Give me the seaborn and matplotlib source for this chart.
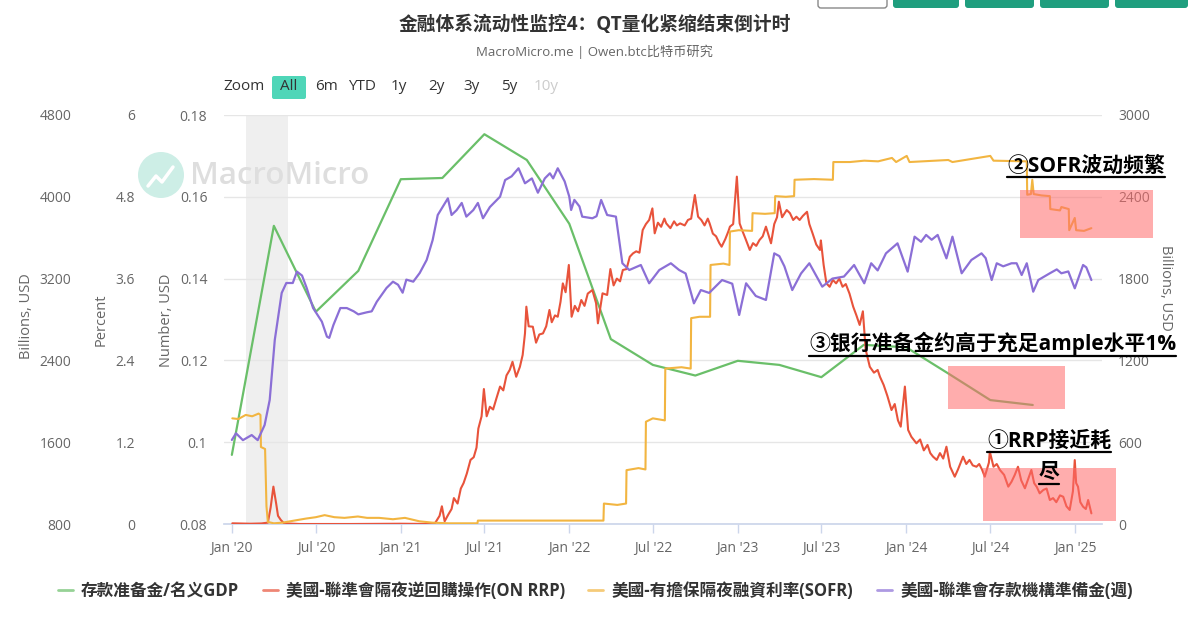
import matplotlib
matplotlib.use("Agg")
import matplotlib.pyplot as plt
import matplotlib.dates as mdates
from matplotlib.patches import Rectangle, FancyBboxPatch, Circle
from matplotlib.lines import Line2D
from matplotlib.transforms import Affine2D
import pandas as pd
import seaborn as sns


title = "金融体系流动性监控4：QT量化紧缩结束倒计时"
subtitle = "MacroMicro.me | Owen.btc比特币研究"
legend_labels = ["存款准备金/名义GDP", "美國-聯準會隔夜逆回購操作(ON RRP)",
                 "美國-有擔保隔夜融資利率(SOFR)", "美國-聯準會存款機構準備金(週)"]

# 存款准备金/名义GDP, quarterly (Number, USD)
reserves_gdp = [
    ("2020-01-01", 0.0969), ("2020-04-01", 0.1529), ("2020-07-01", 0.1319),
    ("2020-10-01", 0.1419), ("2021-01-01", 0.1643), ("2021-04-01", 0.1646),
    ("2021-07-01", 0.1753), ("2021-10-01", 0.1690), ("2022-01-01", 0.1534),
    ("2022-04-01", 0.1252), ("2022-07-01", 0.1189), ("2022-10-01", 0.1163),
    ("2023-01-01", 0.1199), ("2023-04-01", 0.1189), ("2023-07-01", 0.1159),
    ("2023-10-01", 0.1238), ("2024-01-01", 0.1232), ("2024-04-01", 0.1168),
    ("2024-07-01", 0.1103), ("2024-10-01", 0.1091),
]

# ON RRP, billions USD (right axis)
on_rrp = [
    ("2020-01-02", 5), ("2020-02-10", 2), ("2020-03-05", 4), ("2020-03-19", 10),
    ("2020-03-25", 120), ("2020-03-31", 274), ("2020-04-06", 150), ("2020-04-10", 60),
    ("2020-04-16", 30), ("2020-04-23", 5), ("2020-05-27", 0), ("2020-09-14", 0),
    ("2020-12-31", 2), ("2021-03-15", 0), ("2021-03-26", 60), ("2021-03-31", 130),
    ("2021-04-06", 20), ("2021-04-14", 70), ("2021-04-21", 110), ("2021-04-26", 190),
    ("2021-05-04", 150), ("2021-05-11", 260), ("2021-05-17", 300), ("2021-05-24", 370),
    ("2021-06-01", 470), ("2021-06-08", 490), ("2021-06-14", 560), ("2021-06-18", 700),
    ("2021-06-25", 790), ("2021-06-30", 990), ("2021-07-06", 790), ("2021-07-13", 860),
    ("2021-07-20", 840), ("2021-07-27", 920), ("2021-08-04", 1008), ("2021-08-11", 980),
    ("2021-08-18", 1090), ("2021-08-25", 1130), ("2021-08-31", 1190), ("2021-09-08", 1080),
    ("2021-09-16", 1153), ("2021-09-22", 1240), ("2021-09-27", 1398), ("2021-09-30", 1594),
    ("2021-10-05", 1450), ("2021-10-14", 1447), ("2021-10-21", 1330), ("2021-10-28", 1390),
    ("2021-11-05", 1398), ("2021-11-12", 1450), ("2021-11-19", 1570), ("2021-11-24", 1480),
    ("2021-12-01", 1530), ("2021-12-07", 1520), ("2021-12-13", 1630), ("2021-12-18", 1765),
    ("2021-12-24", 1700), ("2021-12-31", 1900), ("2022-01-06", 1520), ("2022-01-13", 1600),
    ("2022-01-20", 1560), ("2022-01-27", 1643), ("2022-02-03", 1600), ("2022-02-10", 1690),
    ("2022-02-20", 1716), ("2022-02-28", 1620), ("2022-03-04", 1472), ("2022-03-14", 1692),
    ("2022-03-24", 1680), ("2022-03-31", 1870), ("2022-04-07", 1750), ("2022-04-14", 1800),
    ("2022-04-21", 1780), ("2022-04-27", 1863), ("2022-05-05", 1870), ("2022-05-12", 1960),
    ("2022-05-19", 1985), ("2022-05-26", 2000), ("2022-06-02", 1990), ("2022-06-09", 2156),
    ("2022-06-16", 2200), ("2022-06-23", 2230), ("2022-06-30", 2315), ("2022-07-05", 2132),
    ("2022-07-12", 2210), ("2022-07-19", 2180), ("2022-07-26", 2240), ("2022-07-30", 2205),
    ("2022-08-08", 2170), ("2022-08-16", 2220), ("2022-08-22", 2190), ("2022-08-29", 2205),
    ("2022-09-08", 2190), ("2022-09-15", 2230), ("2022-09-22", 2240), ("2022-09-30", 2413),
    ("2022-10-07", 2254), ("2022-10-14", 2230), ("2022-10-21", 2190), ("2022-10-28", 2240),
    ("2022-11-01", 2205), ("2022-11-08", 2130), ("2022-11-15", 2110), ("2022-11-22", 2060),
    ("2022-11-27", 2034), ("2022-12-05", 2090), ("2022-12-12", 2150), ("2022-12-15", 2181),
    ("2022-12-22", 2200), ("2022-12-30", 2548), ("2023-01-05", 2205), ("2023-01-11", 2150),
    ("2023-01-18", 2090), ("2023-01-27", 2010), ("2023-02-03", 2060), ("2023-02-10", 2040),
    ("2023-02-17", 2083), ("2023-02-24", 2110), ("2023-03-03", 2181), ("2023-03-14", 2059),
    ("2023-03-21", 2200), ("2023-03-27", 2250), ("2023-03-31", 2364), ("2023-04-07", 2250),
    ("2023-04-17", 2303), ("2023-04-24", 2280), ("2023-05-01", 2230), ("2023-05-08", 2254),
    ("2023-05-15", 2230), ("2023-05-22", 2260), ("2023-05-31", 2290), ("2023-06-05", 2200),
    ("2023-06-12", 2132), ("2023-06-20", 2050), ("2023-06-28", 2010), ("2023-06-30", 2080),
    ("2023-07-06", 1900), ("2023-07-12", 1765), ("2023-07-19", 1740), ("2023-07-26", 1790),
    ("2023-08-02", 1765), ("2023-08-09", 1800), ("2023-08-16", 1740), ("2023-08-23", 1760),
    ("2023-08-31", 1690), ("2023-09-08", 1594), ("2023-09-15", 1530), ("2023-09-22", 1460),
    ("2023-09-29", 1560), ("2023-10-05", 1280), ("2023-10-14", 1153), ("2023-10-23", 1110),
    ("2023-10-31", 1130), ("2023-11-05", 1080), ("2023-11-13", 1020), ("2023-11-21", 940),
    ("2023-11-30", 836), ("2023-12-07", 880), ("2023-12-14", 760), ("2023-12-20", 714),
    ("2023-12-29", 1008), ("2024-01-05", 690), ("2024-01-12", 640), ("2024-01-23", 592),
    ("2024-01-31", 620), ("2024-02-08", 540), ("2024-02-16", 580), ("2024-02-22", 520),
    ("2024-02-28", 494), ("2024-03-07", 470), ("2024-03-14", 520), ("2024-03-21", 480),
    ("2024-03-28", 567), ("2024-04-05", 420), ("2024-04-15", 347), ("2024-04-22", 400),
    ("2024-04-30", 470), ("2024-05-03", 494), ("2024-05-10", 440), ("2024-05-17", 470),
    ("2024-05-24", 430), ("2024-06-01", 420), ("2024-06-07", 440), ("2024-06-13", 400),
    ("2024-06-19", 347), ("2024-06-28", 450), ("2024-06-30", 530), ("2024-07-08", 420),
    ("2024-07-15", 440), ("2024-07-22", 396), ("2024-07-31", 360), ("2024-08-09", 274),
    ("2024-08-16", 310), ("2024-08-23", 360), ("2024-08-30", 420), ("2024-09-06", 320),
    ("2024-09-14", 262), ("2024-09-21", 330), ("2024-09-28", 396), ("2024-10-04", 300),
    ("2024-10-10", 270), ("2024-10-16", 225), ("2024-10-24", 250), ("2024-10-31", 260),
    ("2024-11-07", 176), ("2024-11-14", 190), ("2024-11-21", 160), ("2024-11-29", 210),
    ("2024-12-06", 200), ("2024-12-13", 130), ("2024-12-20", 103), ("2024-12-27", 240),
    ("2024-12-31", 469), ("2025-01-03", 300), ("2025-01-07", 274), ("2025-01-12", 160),
    ("2025-01-18", 127), ("2025-01-24", 110), ("2025-01-29", 176), ("2025-02-05", 78),
]

# SOFR, percent
sofr = [
    ("2020-01-02", 1.55), ("2020-01-15", 1.54), ("2020-01-31", 1.60), ("2020-02-14", 1.58),
    ("2020-02-28", 1.62), ("2020-03-03", 1.60), ("2020-03-04", 1.13), ("2020-03-13", 1.10),
    ("2020-03-16", 0.26), ("2020-03-19", 0.03), ("2020-04-01", 0.01), ("2020-04-20", 0.02),
    ("2020-05-15", 0.05), ("2020-06-10", 0.08), ("2020-07-01", 0.10), ("2020-07-20", 0.13),
    ("2020-08-10", 0.10), ("2020-09-01", 0.09), ("2020-09-30", 0.11), ("2020-10-20", 0.09),
    ("2020-11-15", 0.09), ("2020-12-15", 0.07), ("2021-01-10", 0.09), ("2021-02-10", 0.04),
    ("2021-03-10", 0.02), ("2021-04-15", 0.01), ("2021-06-16", 0.01), ("2021-06-17", 0.05),
    ("2021-10-01", 0.05), ("2022-03-16", 0.05), ("2022-03-17", 0.30), ("2022-04-15", 0.28),
    ("2022-05-04", 0.30), ("2022-05-05", 0.79), ("2022-05-31", 0.82), ("2022-06-15", 0.80),
    ("2022-06-16", 1.50), ("2022-07-01", 1.55), ("2022-07-27", 1.52), ("2022-07-28", 2.28),
    ("2022-09-01", 2.30), ("2022-09-21", 2.28), ("2022-09-22", 3.02), ("2022-10-10", 3.04),
    ("2022-11-02", 3.04), ("2022-11-03", 3.80), ("2022-12-01", 3.82), ("2022-12-14", 3.80),
    ("2022-12-15", 4.29), ("2023-01-03", 4.31), ("2023-02-01", 4.30), ("2023-02-02", 4.56),
    ("2023-03-01", 4.55), ("2023-03-22", 4.56), ("2023-03-23", 4.81), ("2023-04-15", 4.80),
    ("2023-05-03", 4.81), ("2023-05-04", 5.05), ("2023-06-15", 5.06), ("2023-07-26", 5.05),
    ("2023-07-27", 5.31), ("2023-09-01", 5.31), ("2023-10-02", 5.33), ("2023-11-01", 5.32),
    ("2023-12-01", 5.37), ("2023-12-10", 5.31), ("2024-01-02", 5.40), ("2024-01-08", 5.31),
    ("2024-04-01", 5.34), ("2024-04-10", 5.31), ("2024-07-01", 5.40), ("2024-07-08", 5.33),
    ("2024-09-18", 5.32), ("2024-09-19", 4.83), ("2024-09-27", 4.84), ("2024-09-30", 5.05),
    ("2024-10-03", 4.84), ("2024-10-20", 4.82), ("2024-11-07", 4.81), ("2024-11-08", 4.62),
    ("2024-11-29", 4.60), ("2024-12-02", 4.65), ("2024-12-18", 4.62), ("2024-12-19", 4.31),
    ("2024-12-31", 4.49), ("2025-01-03", 4.31), ("2025-01-20", 4.30), ("2025-02-05", 4.34),
]

# Fed reserves of depository institutions, weekly, billions USD (left axis)
reserves = [
    ("2020-01-01", 1622), ("2020-01-10", 1687), ("2020-01-25", 1620), ("2020-02-13", 1670),
    ("2020-02-26", 1620), ("2020-03-12", 1768), ("2020-03-23", 2013), ("2020-04-03", 2600),
    ("2020-04-18", 3060), ("2020-04-28", 3157), ("2020-05-12", 3157), ("2020-05-21", 3268),
    ("2020-06-01", 3230), ("2020-06-11", 3110), ("2020-06-25", 2912), ("2020-07-14", 2779),
    ("2020-07-25", 2632), ("2020-07-30", 2620), ("2020-08-08", 2746), ("2020-08-23", 2912),
    ("2020-09-06", 2912), ("2020-09-21", 2880), ("2020-10-01", 2850), ("2020-10-19", 2870),
    ("2020-10-30", 2880), ("2020-11-10", 2974), ("2020-12-01", 3108), ("2020-12-15", 3170),
    ("2020-12-26", 3140), ("2021-01-05", 3062), ("2021-01-13", 3190), ("2021-01-28", 3170),
    ("2021-02-11", 3255), ("2021-02-26", 3382), ("2021-03-11", 3577), ("2021-03-22", 3822),
    ("2021-04-13", 3985), ("2021-04-21", 3822), ("2021-05-02", 3870), ("2021-05-13", 3940),
    ("2021-05-23", 3806), ("2021-06-07", 3870), ("2021-06-17", 3940), ("2021-06-28", 3790),
    ("2021-07-13", 3900), ("2021-08-04", 4001), ("2021-08-15", 4164), ("2021-08-29", 4200),
    ("2021-09-13", 4279), ("2021-09-27", 4132), ("2021-10-12", 4180), ("2021-10-25", 4040),
    ("2021-11-09", 4180), ("2021-11-20", 4230), ("2021-11-27", 4180), ("2021-12-07", 4279),
    ("2021-12-22", 4150), ("2022-01-01", 4001), ("2022-01-05", 3871), ("2022-01-12", 3970),
    ("2022-01-23", 3906), ("2022-01-29", 3806), ("2022-02-20", 3790), ("2022-03-01", 3810),
    ("2022-03-11", 3969), ("2022-03-24", 3822), ("2022-04-12", 3806), ("2022-04-26", 3350),
    ("2022-05-11", 3284), ("2022-06-05", 3333), ("2022-06-23", 3154), ("2022-07-15", 3284),
    ("2022-08-09", 3350), ("2022-08-27", 3284), ("2022-09-10", 3250), ("2022-09-28", 2958),
    ("2022-10-13", 3088), ("2022-10-31", 3060), ("2022-11-28", 3186), ("2022-12-20", 3150),
    ("2023-01-04", 2844), ("2023-01-19", 3154), ("2023-02-09", 3030), ("2023-03-03", 2991),
    ("2023-03-21", 3447), ("2023-04-01", 3420), ("2023-04-12", 3320), ("2023-04-29", 3088),
    ("2023-05-18", 3250), ("2023-06-05", 3350), ("2023-07-03", 3121), ("2023-07-25", 3200),
    ("2023-08-19", 3220), ("2023-09-10", 3333), ("2023-10-02", 3154), ("2023-10-17", 3350),
    ("2023-10-31", 3280), ("2023-11-18", 3447), ("2023-12-13", 3545), ("2024-01-04", 3268),
    ("2024-01-19", 3610), ("2024-02-02", 3560), ("2024-02-13", 3627), ("2024-02-25", 3580),
    ("2024-03-09", 3627), ("2024-03-28", 3398), ("2024-04-10", 3610), ("2024-04-30", 3252),
    ("2024-05-21", 3382), ("2024-06-12", 3447), ("2024-06-21", 3400), ("2024-07-04", 3186),
    ("2024-07-15", 3350), ("2024-07-29", 3320), ("2024-08-16", 3350), ("2024-08-27", 3350),
    ("2024-09-07", 3235), ("2024-09-18", 3350), ("2024-10-02", 3072), ("2024-10-13", 3186),
    ("2024-11-07", 3252), ("2024-11-22", 3290), ("2024-12-02", 3252), ("2024-12-17", 3270),
    ("2024-12-31", 3105), ("2025-01-18", 3333), ("2025-01-25", 3310), ("2025-02-05", 3186),
]

ratio_ticks = [0.08, 0.10, 0.12, 0.14, 0.16, 0.18]
ratio_tick_labels = ["0.08", "0.1", "0.12", "0.14", "0.16", "0.18"]
rrp_ticks = [0, 600, 1200, 1800, 2400, 3000]
sofr_ticks = [0, 1.2, 2.4, 3.6, 4.8, 6]
sofr_tick_labels = ["0", "1.2", "2.4", "3.6", "4.8", "6"]
res_ticks = [800, 1600, 2400, 3200, 4000, 4800]

GREEN = "#6abf69"
RED = "#e8533b"
YELLOW = "#f2b541"
PURPLE = "#8b6fd6"
TICK_GRAY = "#666666"


def to_df(pairs):
    df = pd.DataFrame(pairs, columns=["date", "value"])
    df["date"] = pd.to_datetime(df["date"])
    return df


sns.set_theme(style="white")
plt.rcParams["font.family"] = ["Open Sans", "Noto Sans CJK SC", "DejaVu Sans"]

W, H = 1200, 632
fig = plt.figure(figsize=(W / 100, H / 100), dpi=100)
fig.patch.set_facecolor("white")
# pixel coords, origin top-left
pix = Affine2D().scale(1, -1).translate(0, H).scale(1 / W, 1 / H) + fig.transFigure

ax = fig.add_axes([224 / W, 1 - 524 / H, 878 / W, 409 / H])
ax.patch.set_alpha(0)
sns.lineplot(data=to_df(reserves_gdp), x="date", y="value", ax=ax, color=GREEN, linewidth=1.6)

ax_rrp = ax.twinx()
sns.lineplot(data=to_df(on_rrp), x="date", y="value", ax=ax_rrp, color=RED, linewidth=1.5)

ax_sofr = ax.twinx()
sns.lineplot(data=to_df(sofr), x="date", y="value", ax=ax_sofr, color=YELLOW, linewidth=1.5)

ax_res = ax.twinx()
sns.lineplot(data=to_df(reserves), x="date", y="value", ax=ax_res, color=PURPLE, linewidth=1.6)

# recession band
ax.axvspan(pd.Timestamp("2020-02-01"), pd.Timestamp("2020-05-01"), color="#efefef", lw=0, zorder=0)

ax.set_ylim(0.08, 0.18)
ax.set_yticks(ratio_ticks, ratio_tick_labels)
ax_rrp.set_ylim(0, 3000)
ax_rrp.set_yticks(rrp_ticks)
ax_sofr.set_ylim(0, 6)
ax_sofr.set_yticks(sofr_ticks, sofr_tick_labels)
ax_res.set_ylim(800, 4800)
ax_res.set_yticks(res_ticks)

for a in [ax, ax_rrp, ax_sofr, ax_res]:
    a.set_xlabel("")
    a.set_ylabel("")
    for s in a.spines.values():
        s.set_visible(False)
    a.tick_params(axis="y", length=0, labelsize=10, labelcolor=TICK_GRAY)

ax.tick_params(axis="y", pad=12)
ax_rrp.tick_params(axis="y", pad=11.5)
for a, off in [(ax_sofr, 64), (ax_res, 110)]:
    a.yaxis.tick_left()
    a.spines["left"].set_position(("outward", off))
    a.tick_params(axis="y", pad=0, labelleft=True, labelright=False)

ax.yaxis.grid(True, color="#e6e6e6", linewidth=1)
ax.set_axisbelow(True)
ax.spines["bottom"].set_visible(True)
ax.spines["bottom"].set_color("#ccd6eb")

ax.set_xlim(pd.Timestamp("2019-12-15"), pd.Timestamp("2025-02-28"))
ax.xaxis.set_major_locator(mdates.MonthLocator(bymonth=[1, 7]))
ax.xaxis.set_major_formatter(mdates.DateFormatter("%b '%y"))
ax.tick_params(axis="x", bottom=True, length=6.5, width=1, color="#ccd6eb", pad=6,
               labelsize=10, labelcolor=TICK_GRAY)

# axis titles
fig.text(27, 316, "Billions, USD", transform=pix, rotation=90, ha="center", va="center",
         fontsize=10.5, color=TICK_GRAY)
fig.text(101, 320, "Percent", transform=pix, rotation=90, ha="center", va="center",
         fontsize=10.5, color=TICK_GRAY)
fig.text(166, 320, "Number, USD", transform=pix, rotation=90, ha="center", va="center",
         fontsize=10.5, color=TICK_GRAY)
fig.text(1165, 288, "Billions, USD", transform=pix, rotation=270, ha="center", va="center",
         fontsize=10.5, color=TICK_GRAY)

# title
fig.text(595, 25, title, transform=pix, ha="center", va="center", fontsize=13.5,
         fontweight="bold", color="#333333")
fig.text(595, 52, subtitle, transform=pix, ha="center", va="center", fontsize=9.5,
         color="#666666")

# range selector
fig.text(244, 87, "Zoom", transform=pix, ha="center", va="center", fontsize=11, color="#333333")
fig.add_artist(FancyBboxPatch((272, 76), 34, 23, boxstyle="round,pad=0,rounding_size=2",
                              transform=pix, facecolor="#4fd6b8", edgecolor="none"))
for label, x, c in [("All", 289, "#333333"), ("6m", 326, "#333333"), ("YTD", 362, "#333333"),
                    ("1y", 399, "#333333"), ("2y", 436, "#333333"), ("3y", 472, "#333333"),
                    ("5y", 509, "#333333"), ("10y", 546, "#cccccc")]:
    fig.text(x, 87, label, transform=pix, ha="center", va="center", fontsize=11, color=c)

# top-right buttons (cut off)
fig.add_artist(FancyBboxPatch((818, -10), 69, 18, boxstyle="round,pad=0,rounding_size=3",
                              transform=pix, facecolor="white", edgecolor="#888888", lw=1))
for x0, x1 in [(893, 959), (965, 1034), (1040, 1109), (1115, 1188)]:
    fig.add_artist(FancyBboxPatch((x0, -10), x1 - x0, 18, boxstyle="round,pad=0,rounding_size=3",
                                  transform=pix, facecolor="#1f9e7e", edgecolor="none"))

# watermark
fig.add_artist(Circle((161, 175), 23, transform=pix, facecolor="#cdeee6", edgecolor="none", zorder=1))
fig.add_artist(Line2D([148, 156, 162, 173], [186, 176, 182, 167], transform=pix, color="white",
                      lw=2.5, zorder=1))
fig.text(190, 176, "MacroMicro", transform=pix, ha="left", va="center", fontsize=22.5,
         fontweight="semibold", color="#dedede", zorder=1)

# highlight boxes
for x0, y0, x1, y1 in [(1020, 190, 1153, 238), (948, 366, 1065, 409), (983, 468, 1116, 521)]:
    fig.add_artist(Rectangle((x0, y0), x1 - x0, y1 - y0, transform=pix, facecolor="#ff6b6b",
                             edgecolor="none", alpha=0.55, zorder=5))

# annotations with underline
notes = [
    ("②SOFR波动频繁", 1007, 166, "left", 177),
    ("③银行准备金约高于充足ample水平1%", 809, 343, "left", 356),
    ("①RRP接近耗", 1049, 441, "center", 452),
    ("尽", 1049, 472, "center", 484),
]
note_texts = []
for s, x, y, ha, uy in notes:
    t = fig.text(x, y, s, transform=pix, ha=ha, va="center", fontsize=15, fontweight="bold",
                 color="black", zorder=10)
    note_texts.append((t, uy))

# legend
handles = [Line2D([0], [0], color=c, lw=2, alpha=0.7) for c in [GREEN, RED, YELLOW, PURPLE]]
leg = fig.legend(handles, legend_labels, loc="center", bbox_to_anchor=(0.496, 1 - 591 / H), ncol=4,
                 frameon=False, handlelength=0.9, handletextpad=0.5, columnspacing=1.4,
                 prop={"weight": "bold", "size": 12})
for txt in leg.get_texts():
    txt.set_color("#333333")

fig.canvas.draw()
renderer = fig.canvas.get_renderer()
for t, uy in note_texts:
    bb = t.get_window_extent(renderer)
    fig.add_artist(Line2D([bb.x0, bb.x1], [uy, uy], transform=pix, color="black", lw=1.6, zorder=10))

fig.savefig("out.png", dpi=100)
